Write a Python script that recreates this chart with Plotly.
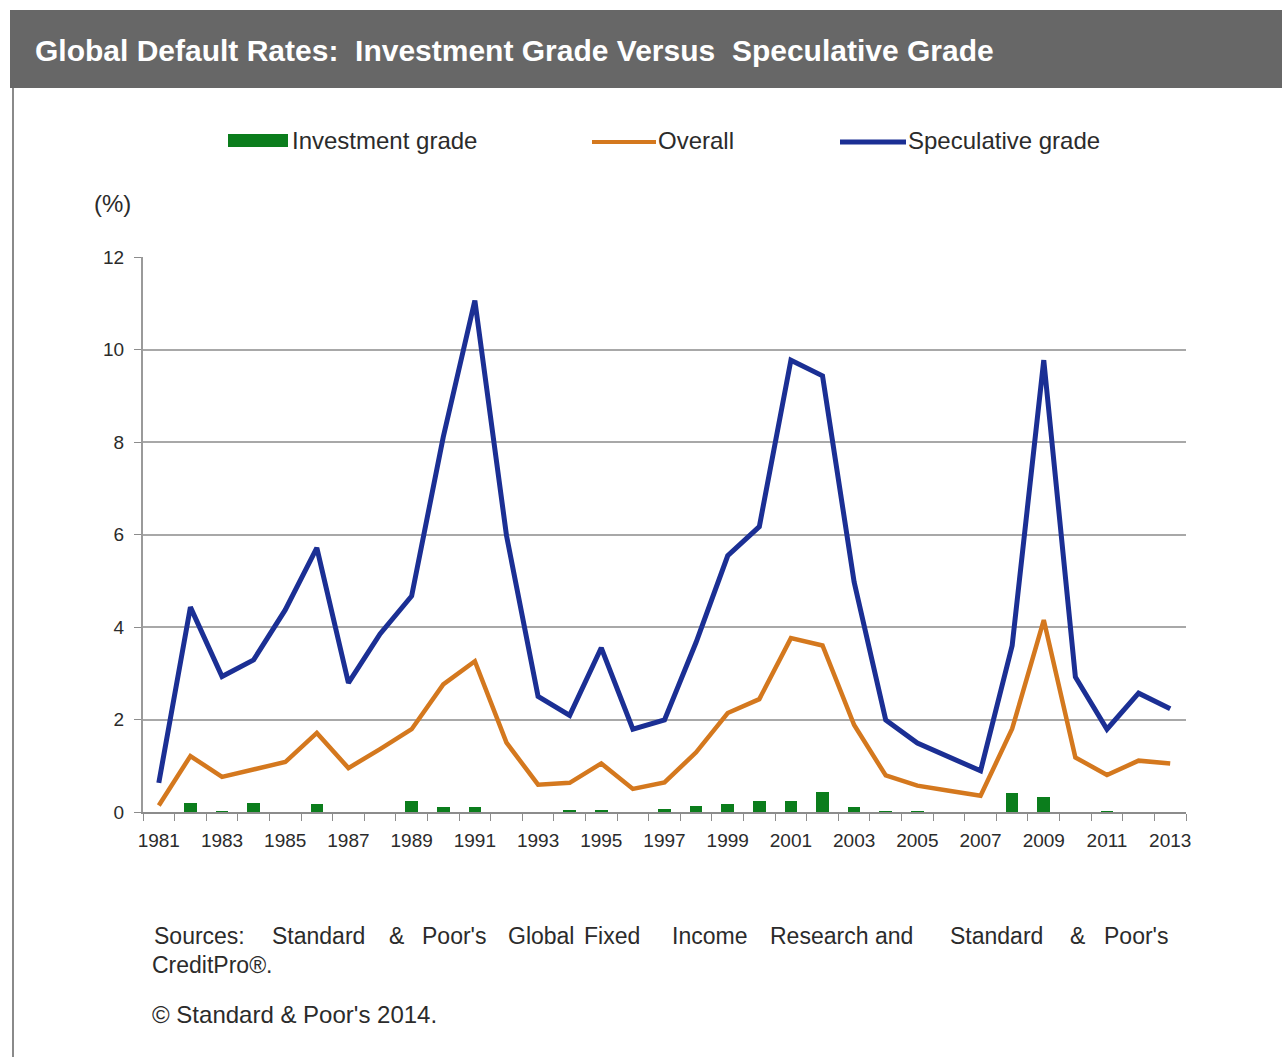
import plotly.graph_objects as go

# Annual global corporate default rates (%)
years = list(range(1981, 2014))
investment_grade = [0.00, 0.19, 0.02, 0.19, 0.00, 0.18, 0.00, 0.00, 0.24, 0.11,
                    0.10, 0.00, 0.00, 0.03, 0.03, 0.00, 0.07, 0.12, 0.18, 0.24,
                    0.23, 0.44, 0.10, 0.02, 0.02, 0.00, 0.00, 0.42, 0.33, 0.00,
                    0.02, 0.00, 0.00]
overall = [0.14, 1.21, 0.76, 0.91, 1.08, 1.71, 0.95, 1.36, 1.79, 2.76,
           3.26, 1.50, 0.59, 0.63, 1.05, 0.50, 0.64, 1.29, 2.14, 2.44,
           3.76, 3.60, 1.88, 0.79, 0.57, 0.46, 0.35, 1.80, 4.15, 1.18,
           0.80, 1.11, 1.05]
speculative_grade = [0.63, 4.43, 2.93, 3.29, 4.37, 5.71, 2.79, 3.85, 4.67, 8.11,
                     11.06, 5.98, 2.50, 2.09, 3.55, 1.79, 1.99, 3.67, 5.54, 6.17,
                     9.77, 9.43, 4.97, 1.99, 1.49, 1.18, 0.89, 3.60, 9.77, 2.92,
                     1.79, 2.57, 2.23]
y_ticks = [0, 2, 4, 6, 8, 10, 12]
label_years = list(range(1981, 2014, 2))

GREEN = "#0b7d1c"
ORANGE = "#d4781e"
BLUE = "#1b2f94"
GRID = "#a8a8a8"
TEXT = "#2b2b2b"
FONT = "Liberation Sans, Arial, sans-serif"

W, H = 1282, 1057
L, R, T, B = 143, 1186, 257, 812


def px(x):
    return (x - L) / (R - L)


def py(y):
    return (B - y) / (B - T)


fig = go.Figure()
fig.add_trace(go.Bar(x=years, y=investment_grade, width=0.4,
                     marker=dict(color=GREEN, line=dict(width=0)),
                     name="Investment grade"))
fig.add_trace(go.Scatter(x=years, y=overall, mode="lines",
                         line=dict(color=ORANGE, width=4.5), name="Overall"))
fig.add_trace(go.Scatter(x=years, y=speculative_grade, mode="lines",
                         line=dict(color=BLUE, width=5), name="Speculative grade"))

shapes = [
    # header bar
    dict(type="rect", xref="paper", yref="paper", x0=px(10), x1=px(1282),
         y0=py(88), y1=py(10), fillcolor="#676767", line=dict(width=0), layer="below"),
    # left frame line
    dict(type="line", xref="paper", yref="paper", x0=px(13), x1=px(13),
         y0=py(1057), y1=py(88), line=dict(color="#8a8a8a", width=2)),
    # legend keys
    dict(type="rect", xref="paper", yref="paper", x0=px(228), x1=px(288),
         y0=py(147), y1=py(134), fillcolor=GREEN, line=dict(width=0)),
    dict(type="line", xref="paper", yref="paper", x0=px(592), x1=px(656),
         y0=py(142), y1=py(142), line=dict(color=ORANGE, width=4)),
    dict(type="line", xref="paper", yref="paper", x0=px(840), x1=px(906),
         y0=py(142), y1=py(142), line=dict(color=BLUE, width=5)),
]


def text(x, y, s, size, color=TEXT, bold=False, family=FONT):
    return dict(xref="paper", yref="paper", x=px(x), y=py(y), text=f"<b>{s}</b>" if bold else s,
                showarrow=False, xanchor="left", yanchor="middle",
                font=dict(family=family, size=size, color=color))


annotations = [
    text(33, 50, "Global Default Rates:  Investment Grade Versus  Speculative Grade", 30,
         color="white", bold=True),
    text(290, 141, "Investment grade", 24),
    text(656, 141, "Overall", 24),
    text(906, 141, "Speculative grade", 24),
    text(92, 203, "(%)", 24),
]

source_words = [(152, "Sources:"), (270, "Standard"), (387, "&"), (420, "Poor's"),
                (506, "Global"), (582, "Fixed"), (670, "Income"), (768, "Research"),
                (873, "and"), (948, "Standard"), (1068, "&"), (1102, "Poor's")]
for x, w in source_words:
    annotations.append(text(x, 936, w, 23))
annotations.append(text(150, 965, "CreditPro®.", 23))
annotations.append(text(150, 1014, "© Standard & Poor's 2014.", 24))

fig.update_layout(
    width=W, height=H,
    margin=dict(l=L, r=W - R, t=T, b=H - B, pad=0),
    paper_bgcolor="white", plot_bgcolor="white",
    showlegend=False,
    shapes=shapes,
    annotations=annotations,
    font=dict(family=FONT, color=TEXT),
    xaxis=dict(
        range=[1980.5, 2013.5],
        tickmode="array", tickvals=label_years, ticktext=[str(y) for y in label_years],
        ticks="", showgrid=False, zeroline=False,
        showline=True, linecolor="#8c8c8c", linewidth=2,
        tickfont=dict(size=19, color=TEXT),
        ticklabelstandoff=10,
        minor=dict(tickmode="array",
                   tickvals=[y + 0.5 for y in range(1980, 2014)],
                   ticks="outside", ticklen=7, tickcolor="#8c8c8c", tickwidth=1,
                   showgrid=False),
    ),
    yaxis=dict(
        range=[0, 12], tickmode="array", tickvals=y_ticks,
        ticks="outside", ticklen=7, tickcolor="#8c8c8c",
        showgrid=True, gridcolor=GRID, gridwidth=2,
        zeroline=False, showline=True, linecolor="#9a9a9a", linewidth=2,
        tickfont=dict(size=19, color=TEXT),
        ticklabelstandoff=6,
    ),
    bargap=0,
)

fig.write_html("out.html")
